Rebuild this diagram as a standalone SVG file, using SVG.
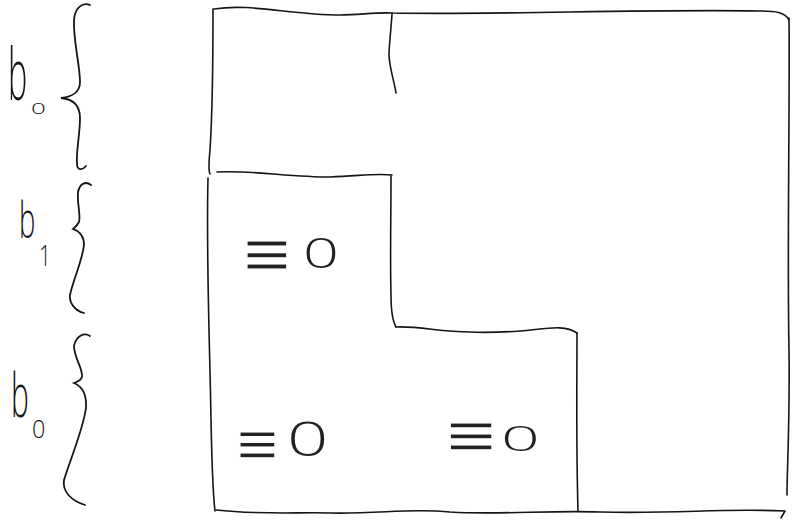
<svg xmlns="http://www.w3.org/2000/svg" width="799" height="529" viewBox="0 0 799 529">
<style>
.ln{fill:none;stroke:#151515;stroke-width:1.6;stroke-linecap:round;stroke-linejoin:round}
.br{fill:none;stroke:#151515;stroke-width:1.8;stroke-linecap:round}
.lb{font-family:"Open Sans","Liberation Sans",Arial,sans-serif;font-weight:300;fill:#151515}
.mk{font-family:"DejaVu Sans","Liberation Sans",Arial,sans-serif;font-weight:normal;fill:#222;stroke:#fff;stroke-width:0.9}
.zo{font-family:"Open Sans","Liberation Sans",Arial,sans-serif;font-weight:300;fill:#222}
</style>
<rect width="799" height="529" fill="#fff"/>
<g id="labels">
  <g id="label-b0-top">
    <text class="lb" font-size="72" transform="translate(8,100) scale(0.45,1)">b</text>
    <text class="lb" font-size="20" transform="translate(31,114) scale(1.3,0.7)">0</text>
  </g>
  <g id="label-b1">
    <text class="lb" font-size="50" transform="translate(19,238) scale(0.55,1)">b</text>
    <text class="lb" font-size="30" transform="translate(39,266) scale(0.7,1)">1</text>
  </g>
  <g id="label-b0-bottom">
    <text class="lb" font-size="60" transform="translate(11,417) scale(0.5,1)">b</text>
    <text class="lb" font-size="26" transform="translate(32,438) scale(0.9,1)">0</text>
  </g>
</g>
<g id="braces">
  <path id="brace-b0-top" class="br" d="M90,5 C82,2 75,8 74,20 C73,40 80,65 80,82 C80,92 72,97 61,98 C72,99 80,104 80,118 C80,135 76,150 77,164 C77,170 82,171 86,166"/>
  <path id="brace-b1" class="br" d="M91,185 C86,181 80,183 78,192 C77,205 81,215 79,222 C77,226 74,228 73,229 C79,231 84,236 84,245 C82,262 73,280 70,295 C69,304 76,311 84,313"/>
  <path id="brace-b0-bottom" class="br" d="M90,336 C84,332 76,336 74,346 C74,358 83,368 82,377 C81,380 77,382 74,383 C81,386 87,393 86,408 C83,430 70,460 64,480 C62,492 72,501 85,505"/>
</g>
<g id="blocks">
  <path id="outer-top" class="ln" d="M214,9 C250,3 290,15 340,15 C360,15 375,12 393,13 C500,15 640,9 760,11 C775,11 785,12 789,20"/>
  <path id="outer-right" class="ln" d="M789,18 C790,100 787,250 789,350 C790,420 787,470 787,495"/>
  <path id="outer-left-top" class="ln" d="M213,9 C213,60 212,120 210,150 C209,160 208,170 210,174"/>
  <path id="outer-left-bottom" class="ln" d="M208,178 C206,260 210,350 211,420 C212,470 213,495 215,511"/>
  <path id="outer-bottom" class="ln" d="M216,510 C260,515 300,512 330,513 C380,514 410,508 450,512 C500,515 550,510 600,512 C680,514 720,508 785,511 L781,518"/>
  <path id="split-b0-top" class="ln" d="M392,14 C391,30 389,45 389,56 C390,70 395,85 396,93"/>
  <path id="b1-top" class="ln" d="M217,172 C250,170 290,177 330,177 C360,176 375,173 392,175"/>
  <path id="b1-right" class="ln" d="M391,176 C391,220 390,260 391,295 C391,310 392,320 396,327"/>
  <path id="b0-step-top" class="ln" d="M396,327 C420,326 440,332 470,332 C490,333 505,332 520,331 C545,329 565,324 577,333"/>
  <path id="b0-step-right" class="ln" d="M577,333 C577,380 576,440 578,511"/>
</g>
<g id="zero-marks">
  <g id="zero-b1">
    <text class="mk" font-size="44" transform="translate(240,275) scale(1.45,1.45)">≡</text>
    <text class="zo" font-size="42" transform="translate(303,268) scale(1.5,1)">0</text>
  </g>
  <g id="zero-b0-left">
    <text class="mk" font-size="40" transform="translate(234,463) scale(1.4,1.45)">≡</text>
    <text class="zo" font-size="50" transform="translate(287,456) scale(1.45,0.97)">0</text>
  </g>
  <g id="zero-b0-right">
    <text class="mk" font-size="46" transform="translate(443,455) scale(1.45,1.3)">≡</text>
    <text class="zo" font-size="34" transform="translate(501,451) scale(2,1)">0</text>
  </g>
</g>
</svg>
